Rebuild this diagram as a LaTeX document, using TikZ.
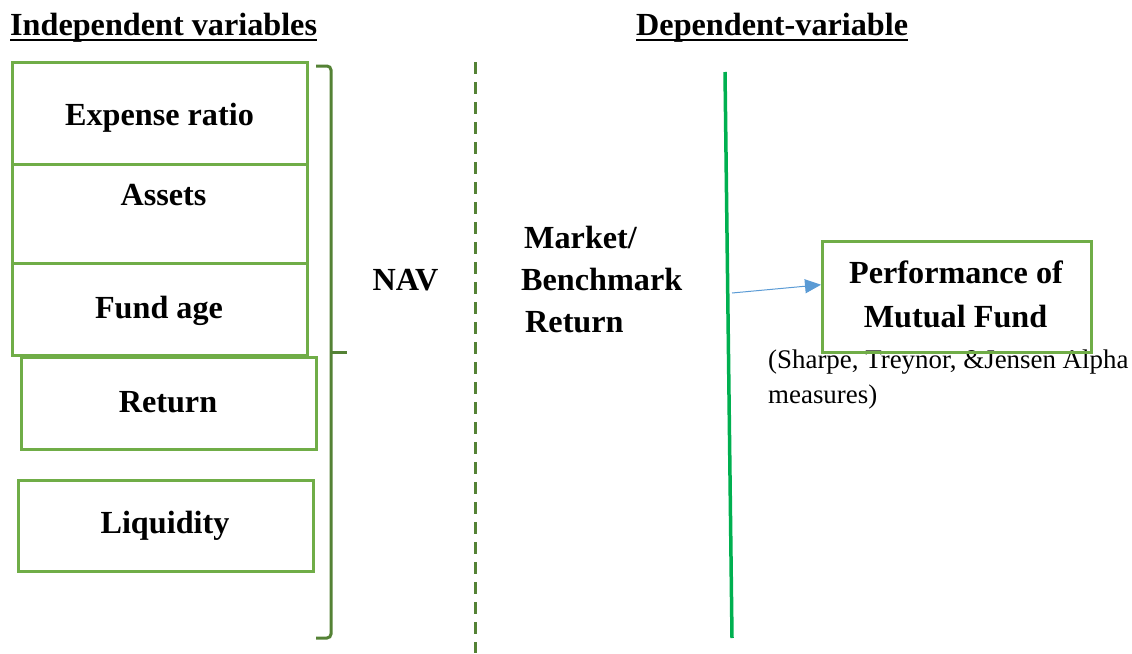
\documentclass[tikz,border=0pt]{standalone}
\usepackage{fontspec}
\setmainfont{Liberation Serif}
\usetikzlibrary{arrows.meta}
\definecolor{boxgreen}{HTML}{70AD47}
\definecolor{darkgreen}{HTML}{548235}
\definecolor{linegreen}{HTML}{00B050}
\definecolor{arrowblue}{HTML}{5B9BD5}
\begin{document}
\begin{tikzpicture}[x=1pt,y=-1pt,
  varbox/.style={draw=boxgreen, line width=2.5pt, anchor=north west, inner sep=0pt},
  big/.style={font=\fontsize{32.2}{36}\selectfont\bfseries, inner sep=0pt, anchor=base},
  bigleft/.style={big, anchor=base west},
  small/.style={font=\fontsize{26.9}{32}\selectfont, inner sep=0pt, anchor=base west},
  uline/.style={line width=2pt, black}]
\useasboundingbox (0,0) rectangle (1132,653);

% column headings
\node[bigleft] (indep) at (10,35) {Independent variables};
\node[bigleft] (dep) at (636,35) {Dependent-variable};
\draw[uline] ([yshift=-5pt]indep.base west) -- ([yshift=-5pt]indep.base east);
\draw[uline] ([yshift=-5pt]dep.base west) -- ([yshift=-5pt]dep.base east);

% independent variable boxes
\node[varbox, minimum width=295pt, minimum height=102pt] (b1) at (11,61) {};
\node[varbox, minimum width=295pt, minimum height=99pt] (b2) at (11,163) {};
\node[varbox, minimum width=295pt, minimum height=92pt] (b3) at (11,262) {};
\node[varbox, minimum width=295pt, minimum height=92pt] (b4) at (20,356) {};
\node[varbox, minimum width=295pt, minimum height=91pt] (b5) at (17,479) {};

\node[big] (t1) at (159.5,125) {Expense ratio};
\node[big] (t2) at (163.5,205) {Assets};
\node[big] (t3) at (159,318) {Fund age};
\node[big] (t4) at (168,412) {Return};
\node[big] (t5) at (165,533) {Liquidity};

% grouping brace
\coordinate (brtop) at (316,66);
\coordinate (brbot) at (316,638);
\coordinate (brmid) at (331,352);
\coordinate (brtip) at (347,352);
\draw[darkgreen, line width=3pt, rounded corners=4pt] (brtop) -| (331,638) -- (brbot);
\draw[darkgreen, line width=3pt] (brmid) -- (brtip);

\node[big] (nav) at (405.5,290) {NAV};

% dashed separator
\coordinate (dtop) at (475,62);
\coordinate (dbot) at (475,653);
\draw[darkgreen, line width=3pt, dash pattern=on 12pt off 8pt] (dtop) -- (dbot);

\node[bigleft] (m1) at (524,248) {Market/};
\node[bigleft] (m2) at (521,290) {Benchmark};
\node[bigleft] (m3) at (525,332) {Return};

% solid separator
\coordinate (gtop) at (725,72);
\coordinate (gbot) at (732,638);
\draw[linegreen, line width=3.5pt] (gtop) -- (gbot);

% dependent variable
\node[small] (s1) at (768,368) {(Sharpe, Treynor, \&Jensen Alpha};
\node[small] (s2) at (768,403) {measures)};

\node[varbox, minimum width=269pt, minimum height=111pt] (perf) at (821,240) {};
\node[big] (p1) at (956,283) {Performance of};
\node[big] (p2) at (955.5,327) {Mutual Fund};

\coordinate (astart) at (732,293);
\draw[arrowblue, line width=1pt, -{Triangle[length=16pt,width=14pt]}] (astart) -- ([yshift=12pt]perf.west);
\end{tikzpicture}
\end{document}
